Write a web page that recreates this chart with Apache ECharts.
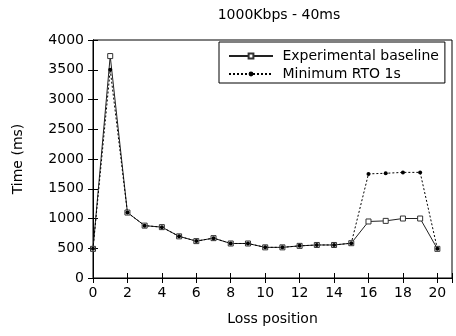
<!DOCTYPE html>
<html>
<head>
<meta charset="utf-8">
<script src="https://cdn.jsdelivr.net/npm/echarts@6/dist/echarts.min.js"></script>
<style>
  html, body { margin: 0; padding: 0; background: #fff; }
  #chart { width: 456px; height: 336px; }
</style>
</head>
<body>
<div id="chart"></div>
<script>
// Loss positions (x) and measured completion times in milliseconds
const lossPositions = [0, 1, 2, 3, 4, 5, 6, 7, 8, 9, 10, 11, 12, 13, 14, 15, 16, 17, 18, 19, 20];
const baselineTimes = [490, 3730, 1100, 880, 855, 700, 620, 670, 580, 580, 515, 515, 540, 555, 555, 585, 950, 960, 1000, 1000, 490];
const minRtoTimes   = [490, 3500, 1100, 880, 855, 700, 620, 670, 580, 580, 515, 515, 540, 555, 555, 585, 1750, 1760, 1775, 1775, 490];
const seriesNames = ['Experimental baseline', 'Minimum RTO 1s'];
const xTicks = [0, 2, 4, 6, 8, 10, 12, 14, 16, 18, 20];
const yTicks = [0, 500, 1000, 1500, 2000, 2500, 3000, 3500, 4000];

const FONT = 'DejaVu Sans';
const pair = (xs, ys) => xs.map((x, i) => [x, ys[i]]);

const chart = echarts.init(document.getElementById('chart'), null, { renderer: 'canvas' });

const xBase = {
  type: 'value', min: 0, max: 20.85, interval: 2,
  axisLine: { show: true, lineStyle: { color: '#000', width: 1 } },
  axisTick: { show: true, inside: true, length: 5, lineStyle: { color: '#000' } },
  splitLine: { show: false }
};
const yBase = {
  type: 'value', min: 0, max: 4000, interval: 500,
  axisLine: { show: true, lineStyle: { color: '#000', width: 1 } },
  axisTick: { show: true, inside: true, length: 5, lineStyle: { color: '#000' } },
  splitLine: { show: false }
};

chart.setOption({
  animation: false,
  backgroundColor: '#fff',
  title: {
    text: '1000Kbps - 40ms',
    left: 274, top: 3, textAlign: 'center',
    textStyle: { fontFamily: FONT, fontSize: 14, fontWeight: 'normal', color: '#000' }
  },
  grid: { left: 93, right: 4, top: 40, bottom: 58, show: true, borderColor: '#000', borderWidth: 1, backgroundColor: 'transparent' },
  legend: {
    data: seriesNames,
    orient: 'vertical',
    left: 219, top: 42,
    padding: [7, 6, 2, 9],
    itemGap: 4,
    itemWidth: 44, itemHeight: 6,
    borderColor: '#000', borderWidth: 1,
    formatter: name => ' ' + name,
    textStyle: { fontFamily: FONT, fontSize: 14, color: '#000' }
  },
  xAxis: [
    Object.assign({}, xBase, {
      position: 'bottom',
      name: 'Loss position', nameLocation: 'middle', nameGap: 34,
      nameTextStyle: { fontFamily: FONT, fontSize: 14, color: '#000' },
      axisLabel: {
        margin: 8, fontFamily: FONT, fontSize: 14, color: '#000',
        formatter: v => (xTicks.indexOf(v) >= 0 ? String(v) : '')
      }
    }),
    Object.assign({}, xBase, { position: 'top', axisLabel: { show: false } })
  ],
  yAxis: [
    Object.assign({}, yBase, {
      position: 'left',
      name: 'Time (ms)', nameLocation: 'middle', nameGap: 68, nameRotate: 90,
      nameTextStyle: { fontFamily: FONT, fontSize: 14, color: '#000' },
      axisLabel: {
        margin: 9, fontFamily: FONT, fontSize: 14, color: '#000',
        formatter: v => (yTicks.indexOf(v) >= 0 ? String(v) : '')
      }
    }),
    Object.assign({}, yBase, { position: 'right', axisLabel: { show: false } })
  ],
  series: [
    {
      name: seriesNames[0], type: 'line',
      data: pair(lossPositions, baselineTimes),
      symbol: 'rect', symbolSize: 5, showAllSymbol: true,
      lineStyle: { color: '#222', width: 1, type: 'solid' },
      itemStyle: { color: '#fff', borderColor: '#333', borderWidth: 1 },
      emphasis: { disabled: true }
    },
    {
      name: seriesNames[1], type: 'line',
      data: pair(lossPositions, minRtoTimes),
      symbol: 'circle', symbolSize: 4, showAllSymbol: true,
      lineStyle: { color: '#000', width: 1, type: [2, 2] },
      itemStyle: { color: '#000', borderColor: '#000', borderWidth: 0 },
      emphasis: { disabled: true }
    }
  ]
});
</script>
</body>
</html>
